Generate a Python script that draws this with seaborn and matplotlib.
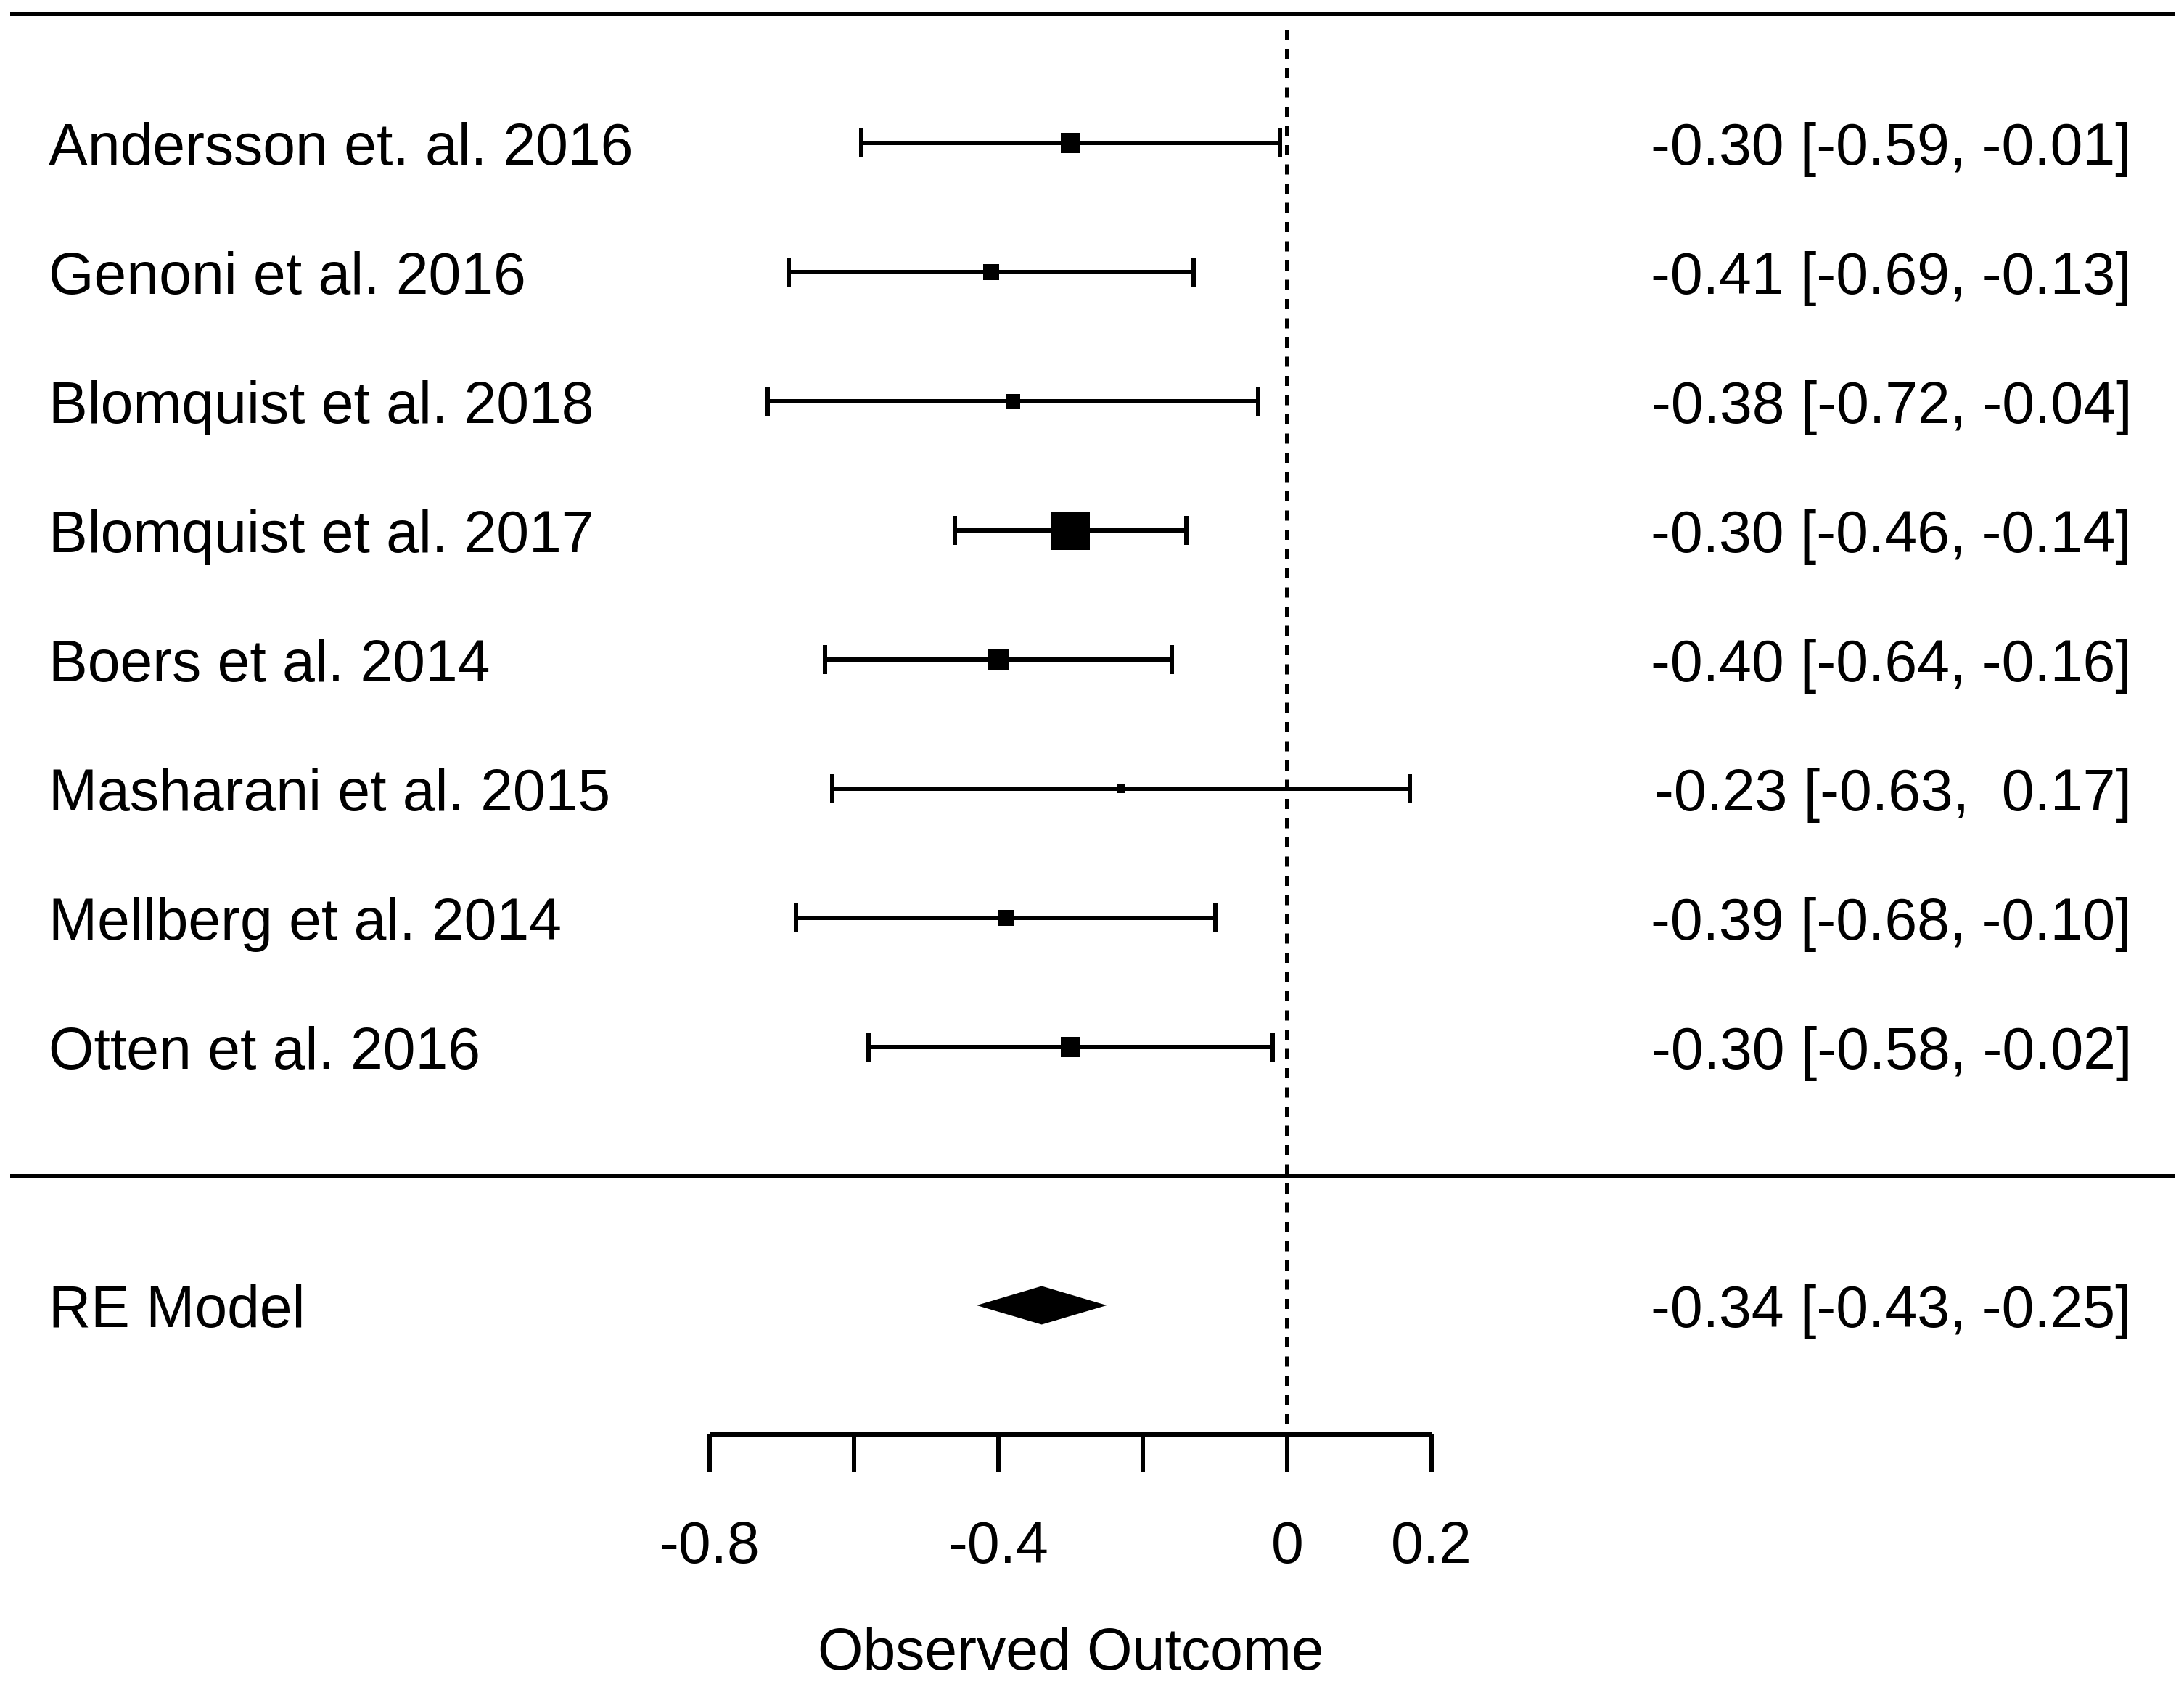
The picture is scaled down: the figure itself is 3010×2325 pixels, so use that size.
import matplotlib
matplotlib.use("Agg")
import matplotlib.pyplot as plt
import seaborn as sns
import numpy as np
import pandas as pd

# ---------------- data ----------------
studies = ["Andersson et. al. 2016", "Genoni et al. 2016", "Blomquist et al. 2018",
           "Blomquist et al. 2017", "Boers et al. 2014", "Masharani et al. 2015",
           "Mellberg et al. 2014", "Otten et al. 2016"]
estimates = [-0.30, -0.41, -0.38, -0.30, -0.40, -0.23, -0.39, -0.30]
ci_lower = [-0.59, -0.69, -0.72, -0.46, -0.64, -0.63, -0.68, -0.58]
ci_upper = [-0.01, -0.13, -0.04, -0.14, -0.16, 0.17, -0.10, -0.02]
weights = [12.5, 10.0, 9.0, 24.5, 12.5, 5.5, 10.5, 12.5]   # relative study weights (%)
annotations = ["-0.30 [-0.59, -0.01]", "-0.41 [-0.69, -0.13]", "-0.38 [-0.72, -0.04]",
               "-0.30 [-0.46, -0.14]", "-0.40 [-0.64, -0.16]", "-0.23 [-0.63,  0.17]",
               "-0.39 [-0.68, -0.10]", "-0.30 [-0.58, -0.02]"]

model_label = "RE Model"
model_est = -0.34
model_lower = -0.43
model_upper = -0.25
model_annotation = "-0.34 [-0.43, -0.25]"

tick_values = [-0.8, -0.6, -0.4, -0.2, 0.0, 0.2]
tick_labels = ["-0.8", "", "-0.4", "", "0", "0.2"]
xlabel = "Observed Outcome"
refline = 0.0

# ---------------- layout / style ----------------
DPI = 200
W_PX, H_PX = 3010, 2325
PX = 72.0 / DPI                 # points per pixel
LW = 6 * PX                     # line width (pt)
FS = 29                         # font size (pt)

k = len(studies)
rows = np.arange(k, 0, -1)      # k .. 1
model_row = -1
axis_row = -2

# axis limits derived from pixel geometry of the reference
x_px0, x_unit = 978.0, 995.0    # pixel of x=-0.8, pixels per unit
row0_px, row_px = 1621.0, 178.0 # pixel of row 0, pixels per row
xlim = (-0.8 - x_px0 / x_unit, -0.8 + (W_PX - x_px0) / x_unit)
ylim = ((row0_px - H_PX) / row_px, row0_px / row_px)

sns.set_theme(style="white")
plt.rcParams["font.family"] = ["Liberation Sans", "DejaVu Sans"]
plt.rcParams["lines.scale_dashes"] = False

fig = plt.figure(figsize=(W_PX / DPI, H_PX / DPI), dpi=DPI)
ax = fig.add_axes([0, 0, 1, 1])
ax.set_xlim(*xlim)
ax.set_ylim(*ylim)
ax.set_facecolor("white")

df = pd.DataFrame({"study": studies, "est": estimates, "lb": ci_lower,
                   "ub": ci_upper, "w": weights, "row": rows})
df["w2"] = df["w"] ** 2

# horizontal separator lines (top and above summary)
line_x0 = xlim[0] + 14 / x_unit
line_x1 = xlim[0] + 2998 / x_unit
ax.hlines([k + 1, 0], line_x0, line_x1, colors="black", linewidth=LW, zorder=2)

# reference line
ax.vlines(refline, axis_row + 0.08, k + 0.9, colors="black", linewidth=LW,
          linestyles=(0, (14 * PX, 12.5 * PX)), zorder=1)

# CIs
ax.errorbar(df["est"], df["row"], xerr=[df["est"] - df["lb"], df["ub"] - df["est"]],
            fmt="none", ecolor="black", elinewidth=LW, capsize=20 * PX,
            capthick=LW, zorder=3)

# squares sized by weight (side proportional to weight)
side_per_w = 53 * PX / max(weights)
sns.scatterplot(data=df, x="est", y="row", size="w2",
                sizes=((side_per_w * min(weights)) ** 2, (side_per_w * max(weights)) ** 2),
                marker="s", color="black", edgecolor="black", linewidth=0,
                legend=False, ax=ax, zorder=4)

# summary diamond
half_h = 26.5 / row_px
ax.fill([model_lower, model_est, model_upper, model_est],
        [model_row, model_row + half_h, model_row, model_row - half_h],
        color="black", linewidth=0, zorder=4)

# labels
label_x = xlim[0] + 67 / x_unit
annot_x = -0.8 + (2938 - x_px0) / x_unit
for r, s, a in zip(rows, studies, annotations):
    ax.text(label_x, r, s, ha="left", va="center_baseline", fontsize=FS, color="black")
    ax.text(annot_x, r, a, ha="right", va="center_baseline", fontsize=FS, color="black")
ax.text(label_x, model_row, model_label, ha="left", va="center_baseline", fontsize=FS, color="black")
ax.text(annot_x, model_row, model_annotation, ha="right", va="center_baseline", fontsize=FS, color="black")

# x axis
for side in ["left", "right", "top"]:
    ax.spines[side].set_visible(False)
ax.spines["bottom"].set_position(("data", axis_row))
ax.spines["bottom"].set_bounds(tick_values[0], tick_values[-1])
ax.spines["bottom"].set_linewidth(LW)
ax.spines["bottom"].set_color("black")
ax.spines["bottom"].set_capstyle("butt")
ax.set_xticks(tick_values)
ax.set_xticklabels(tick_labels)
ax.set_yticks([])
ax.tick_params(axis="x", direction="out", length=52 * PX, width=LW, color="black",
               pad=66 * PX, labelsize=FS, labelcolor="black", bottom=True)
ax.set_xlabel(xlabel, fontsize=FS, color="black")
ax.xaxis.set_label_coords(-0.3, (row0_px - 2242) / row_px, transform=ax.transData)
ax.set_ylabel("")

fig.savefig("out.png", dpi=DPI, facecolor="white")
